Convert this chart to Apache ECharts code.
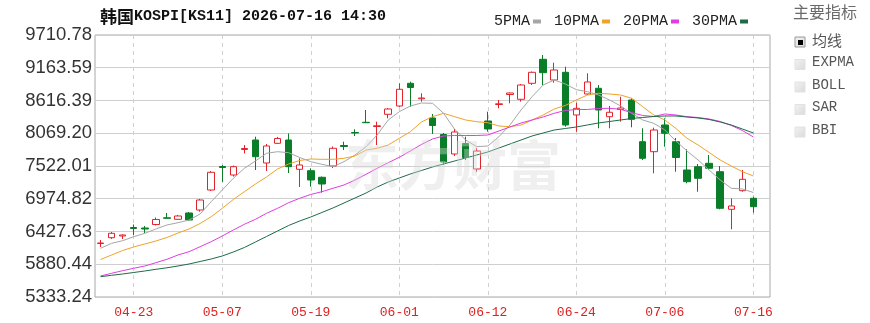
<!DOCTYPE html>
<html>
<head>
<meta charset="utf-8">
<script src="https://cdn.jsdelivr.net/npm/echarts@6/dist/echarts.min.js"></script>
<style>
  html, body { margin: 0; padding: 0; background: #fff; }
  #chart { width: 870px; height: 323px; }
</style>
</head>
<body>
<div id="chart"></div>
<script>
const dates = ['04-20','04-21','04-22','04-23','04-24','04-27','04-28','04-29','04-30','05-04',
  '05-06','05-07','05-08','05-11','05-12','05-13','05-14','05-15','05-18','05-19',
  '05-20','05-21','05-22','05-26','05-27','05-28','05-29','06-01','06-02','06-04',
  '06-05','06-08','06-09','06-10','06-11','06-12','06-15','06-16','06-17','06-18',
  '06-19','06-22','06-23','06-24','06-25','06-26','06-29','06-30','07-01','07-02',
  '07-03','07-06','07-07','07-08','07-09','07-10','07-13','07-14','07-15','07-16'];
const tickDates = ['04-23','05-07','05-19','06-01','06-12','06-24','07-06','07-16'];

const opens = [6227.2,6324.1,6352.5,6494.5,6486.2,6544.6,6656.6,6631.5,6736.8,6786.9,
  7121.0,7513.7,7371.7,7797.8,7956.4,7572.2,7901.3,7956.4,7466.9,7443.5,
  7333.3,7522.1,7864.6,8081.8,8252.2,8182.0,8385.9,8524.6,8903.8,8644.8,
  8324.1,8048.4,7722.6,7898.0,7471.9,8273.9,8549.6,8716.7,8636.5,8903.8,
  9304.8,8959.0,9087.6,8374.2,8725.0,8820.3,8345.8,8466.1,8624.8,7928.1,
  7761.0,8207.1,7928.1,7455.2,7510.4,7567.2,7426.8,6798.6,7109.4,6982.4];
const closes = [6235.6,6397.6,6369.2,6477.8,6469.5,6628.2,6648.2,6686.7,6619.8,6953.9,
  7416.8,7497.0,7510.4,7814.5,7677.5,7856.2,7981.5,7510.4,7538.8,7288.1,
  7221.3,7817.8,7847.9,8073.4,8245.5,8193.7,8474.4,8803.6,8833.6,8658.2,
  8198.7,7588.9,8090.1,7664.1,7772.7,8140.3,8561.3,8741.8,8875.4,9087.6,
  9080.9,9126.0,8207.1,8486.1,8925.5,8457.7,8419.3,8491.1,8302.3,7650.7,
  8123.5,8068.4,7664.1,7259.8,7316.6,7483.7,6815.3,6853.8,7299.8,6842.1];
const lows = [6168.7,6302.4,6302.4,6369.2,6402.6,6527.9,6644.9,6619.8,6611.5,6758.5,
  7104.4,7254.7,7346.6,7730.9,7455.2,7438.5,7889.6,7405.1,7171.2,7176.2,
  7076.0,7488.7,7789.3,8023.3,8240.5,7872.9,8319.0,8507.8,8512.9,8596.4,
  8056.7,7538.8,7689.2,7622.3,7421.8,8095.2,8486.1,8569.6,8596.4,8875.4,
  8875.4,8913.8,8178.7,8095.2,8708.3,8152.0,8152.0,8262.2,8168.6,7622.3,
  7400.1,7844.5,7426.8,7233.0,7092.7,7455.2,6798.6,6464.5,7092.7,6741.8];
const highs = [6285.7,6419.3,6377.6,6544.6,6519.6,6661.6,6736.8,6703.4,6753.5,6970.7,
  7438.5,7538.8,7530.4,7872.9,8011.6,7889.6,8006.6,8065.1,7650.7,7483.7,
  7346.6,7847.9,7928.1,8135.3,8457.7,8262.2,8491.1,8903.8,8930.6,8736.7,
  8390.9,8073.4,8140.3,8011.6,7822.8,8429.3,8624.8,8750.1,8892.1,9101.0,
  9376.7,9248.0,9181.2,8579.7,9070.9,8875.4,8524.6,8679.9,8653.2,8152.0,
  8162.0,8319.0,7989.9,7801.1,7555.5,7705.9,7522.1,6982.4,7455.2,7009.1];

const ma5 = [6147.0,6230.5,6274.0,6340.8,6397.6,6469.5,6536.3,6574.7,6619.8,6720.1,
  6925.6,7121.0,7316.6,7483.7,7605.6,7734.3,7761.0,7744.3,7664.1,7593.9,
  7550.5,7510.4,7593.9,7705.9,7844.5,8040.0,8290.6,8429.3,8524.6,8574.7,
  8569.7,8402.6,8135.3,7956.4,7844.5,7856.2,8011.6,8207.1,8457.7,8679.9,
  8875.4,8959.0,8892.1,8796.9,8763.5,8708.3,8624.8,8524.6,8402.6,8290.6,
  8235.5,8123.5,7939.8,7772.7,7622.3,7455.2,7288.1,7149.5,7137.8,7079.3];
const ma10 = [5959.9,6035.1,6110.2,6168.7,6218.8,6269.0,6327.4,6402.6,6469.5,6561.4,
  6675.0,6815.3,6962.4,7092.7,7221.3,7338.3,7471.9,7555.5,7614.0,7639.0,
  7634.0,7634.0,7650.7,7689.2,7789.3,7817.8,7872.9,7984.9,8095.2,8257.2,
  8345.8,8402.6,8345.8,8290.6,8262.2,8245.5,8190.4,8178.7,8207.1,8290.6,
  8374.2,8474.4,8532.9,8624.8,8708.3,8736.7,8725.0,8708.3,8653.2,8512.9,
  8374.2,8290.6,8148.6,7984.9,7872.9,7747.6,7622.3,7522.1,7426.8,7355.0];
const ma20 = [5684.2,5729.3,5772.8,5812.9,5851.3,5906.4,5963.2,6035.1,6090.2,6173.7,
  6257.3,6352.5,6452.7,6548.0,6631.5,6731.8,6815.3,6908.9,6982.4,7045.9,
  7092.7,7149.5,7204.6,7288.1,7383.4,7483.7,7577.2,7667.4,7772.7,7881.3,
  7973.2,8023.3,8031.7,8031.7,8031.7,8040.0,8106.9,8173.7,8240.5,8290.6,
  8340.8,8402.6,8449.4,8466.1,8466.1,8482.8,8486.1,8469.4,8412.6,8365.8,
  8349.1,8390.9,8374.2,8345.8,8332.4,8307.3,8265.6,8198.7,8115.2,8006.6];
const ma30 = [5672.5,5695.9,5717.6,5742.7,5767.7,5796.1,5821.2,5851.3,5884.7,5926.5,
  5968.2,6018.4,6085.2,6160.4,6252.3,6344.2,6436.1,6527.9,6603.1,6670.0,
  6745.1,6820.3,6903.9,6987.4,7071.0,7171.2,7254.7,7321.6,7388.4,7446.9,
  7505.4,7555.5,7605.6,7655.7,7705.9,7756.0,7822.8,7889.6,7956.4,8023.3,
  8073.4,8123.5,8148.6,8173.7,8207.1,8240.5,8265.6,8290.6,8315.7,8332.4,
  8349.1,8357.5,8357.5,8340.8,8324.1,8299.0,8257.2,8207.1,8140.3,8073.4];

const yTicks = ['5333.24','5880.44','6427.63','6974.82','7522.01','8069.20','8616.39','9163.59','9710.78'];
const yMin = 5333.24;
const yStep = 547.1925;
const yMax = yMin + yStep * 8;

const indicators = ['均线', 'EXPMA', 'BOLL', 'SAR', 'BBI'];

// one empty slot after the last day, like the reference
const categories = dates.concat(['']);
const kData = dates.map((d, i) => [opens[i], closes[i], lows[i], highs[i]]);
const isTick = (i, v) => tickDates.includes(v);

const maSeries = [
  { name: '5PMA', data: ma5, color: '#a6a6a6' },
  { name: '10PMA', data: ma10, color: '#f0a22a' },
  { name: '20PMA', data: ma20, color: '#e03de0' },
  { name: '30PMA', data: ma30, color: '#1d6b47' }
].map(s => ({
  name: s.name,
  type: 'line',
  data: s.data,
  symbol: 'none',
  smooth: false,
  lineStyle: { width: 1, color: s.color },
  itemStyle: { color: s.color },
  z: 3
}));

const mono = "'Liberation Mono', 'DejaVu Sans Mono', monospace";
const cjk = "'Noto Sans CJK SC', sans-serif";

const panel = [{
  type: 'text', left: 793, top: 4,
  style: { text: '主要指标', font: '16px ' + cjk, fill: '#6a6a6a' }
}];
indicators.forEach((name, i) => {
  const y = 37 + i * 22.5;
  panel.push({
    type: 'rect', shape: { x: 795, y: y, width: 10, height: 10 },
    style: {
      fill: new echarts.graphic.LinearGradient(0, 0, 1, 1, [
        { offset: 0, color: '#f4f4f4' }, { offset: 1, color: '#d9d9d9' }
      ]),
      stroke: i === 0 ? '#9a9a9a' : '#e2e2e2', lineWidth: 1
    }
  });
  if (i === 0) {
    panel.push({ type: 'rect', shape: { x: 798, y: y + 3, width: 5, height: 5 }, style: { fill: '#000' } });
  }
  panel.push({
    type: 'text', left: 812, top: y - 4,
    style: { text: name, font: (i === 0 ? '15px ' + cjk : '14px ' + mono), fill: '#555' }
  });
});
// faint site watermark over the plot
panel.push({
  type: 'text', left: 345, top: 138, z: 100,
  style: { text: '东方财富', font: 'bold 54px ' + cjk, fill: 'rgba(215,215,215,0.4)' }
});

const chart = echarts.init(document.getElementById('chart'), null, { renderer: 'canvas' });
chart.setOption({
  animation: false,
  backgroundColor: '#fff',
  title: {
    left: 95, top: 3,
    text: '{a|韩国}{b|KOSPI[KS11] 2026-07-16 14:30}',
    textStyle: {
      rich: {
        a: { fontFamily: cjk, fontSize: 17, color: '#111' },
        b: { fontFamily: mono, fontSize: 15, color: '#111' }
      }
    }
  },
  legend: {
    left: 489, top: 9,
    align: 'right',
    itemWidth: 8, itemHeight: 4, itemGap: 13,
    textStyle: { fontFamily: mono, fontSize: 15, color: '#222', padding: [0, -2, 0, 0] },
    data: maSeries.map(s => ({ name: s.name, icon: 'rect' }))
  },
  grid: {
    left: 95, right: 100, top: 35, bottom: 26,
    show: true, borderColor: '#a8a8a8', borderWidth: 1
  },
  xAxis: {
    type: 'category',
    data: categories,
    boundaryGap: true,
    axisLine: { show: false },
    axisTick: { show: false },
    axisLabel: {
      interval: isTick, color: '#e02020', fontFamily: mono, fontSize: 13, margin: 9
    },
    splitLine: {
      show: true, interval: isTick, alignWithLabel: true,
      lineStyle: { color: '#d0d0d0', type: [4, 4], width: 1 }
    }
  },
  yAxis: {
    type: 'value',
    min: yMin, max: yMax, interval: yStep,
    axisLine: { show: false },
    axisTick: { show: false },
    axisLabel: {
      color: '#333', fontFamily: "'Liberation Sans', Arial, sans-serif", fontSize: 18.5, margin: 3,
      formatter: v => yTicks[Math.round((v - yMin) / yStep)]
    },
    splitLine: { lineStyle: { color: '#cfcfcf', width: 1 } }
  },
  graphic: panel,
  series: [{
    name: 'KOSPI',
    type: 'candlestick',
    data: kData,
    barWidth: 7,
    itemStyle: {
      color: '#ffffff', color0: '#0a7d28',
      borderColor: '#e3232b', borderColor0: '#0a7d28', borderWidth: 1
    },
    z: 2
  }].concat(maSeries)
});
</script>
</body>
</html>
